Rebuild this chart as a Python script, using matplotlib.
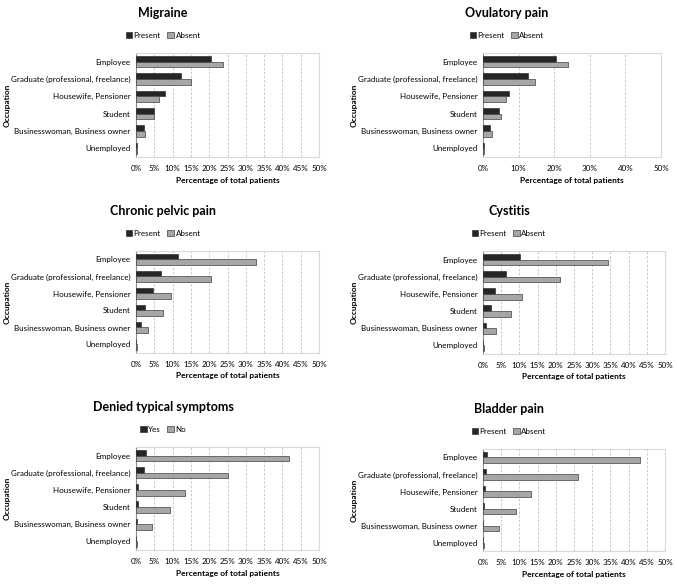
import numpy as np
import matplotlib
matplotlib.use("Agg")
import matplotlib.pyplot as plt
from matplotlib.ticker import MultipleLocator, FuncFormatter

plt.rcParams["font.family"] = ["Lato", "DejaVu Sans"]

occupations = [
    "Employee",
    "Graduate (professional, freelance)",
    "Housewife, Pensioner",
    "Student",
    "Businesswoman, Business owner",
    "Unemployed",
]

migraine_present = [20.5, 12.2, 7.8, 4.9, 2.2, 0.2]
migraine_absent = [23.9, 15.0, 6.2, 4.9, 2.4, 0.2]

ovulatory_present = [20.6, 12.6, 7.4, 4.6, 2.1, 0.2]
ovulatory_absent = [23.8, 14.6, 6.6, 5.0, 2.4, 0.2]

pelvic_present = [11.6, 6.7, 4.6, 2.5, 1.4, 0.1]
pelvic_absent = [32.7, 20.5, 9.5, 7.5, 3.2, 0.2]

cystitis_present = [10.1, 6.2, 3.4, 2.3, 0.9, 0.1]
cystitis_absent = [34.4, 21.1, 10.7, 7.7, 3.6, 0.2]

denied_yes = [2.6, 2.2, 0.6, 0.5, 0.2, 0.0]
denied_no = [41.8, 25.1, 13.5, 9.3, 4.3, 0.3]

bladder_present = [1.2, 0.9, 0.5, 0.3, 0.1, 0.0]
bladder_absent = [43.2, 26.2, 13.3, 9.2, 4.4, 0.2]

DARK = "#262626"
GREY = "#a6a6a6"

fig = plt.figure(figsize=(6.77, 5.85), dpi=100)


def panel(rect, title, first, second, names, step, title_x, ylab_x):
    ax = fig.add_axes(rect)
    y = np.arange(len(occupations))
    h = 0.33
    ax.barh(y - h / 2, first, height=h, color=DARK, edgecolor="#1a1a1a",
            linewidth=0.4, label=names[0], zorder=3)
    ax.barh(y + h / 2, second, height=h, color=GREY, edgecolor="#404040",
            linewidth=0.5, label=names[1], zorder=3)
    ax.set_ylim(len(occupations) - 0.5, -0.5)
    ax.set_yticks(y)
    ax.set_yticklabels(occupations, fontsize=5.8)
    ax.set_xlim(0, 50)
    ax.xaxis.set_major_locator(MultipleLocator(step))
    ax.xaxis.set_major_formatter(FuncFormatter(lambda v, p: "%d%%" % v))
    ax.tick_params(axis="x", labelsize=5.8, length=0, pad=6)
    ax.tick_params(axis="y", length=0, pad=4)
    ax.grid(axis="x", color="#bfbfbf", linestyle=(0, (3, 2)), linewidth=0.6,
            zorder=0)
    for s in ax.spines.values():
        s.set_color("#d9d9d9")
        s.set_linewidth(0.8)
    ax.spines["left"].set_color("#8c8c8c")
    ax.set_xlabel("Percentage of total patients", fontsize=6,
                  fontweight="bold", labelpad=3)

    top = rect[1] + rect[3]
    fig.text(title_x, top + 0.068, title, ha="center", va="center",
             fontsize=9, fontweight="bold")
    ax.legend(loc="center", bbox_to_anchor=(title_x, top + 0.030),
              bbox_transform=fig.transFigure, ncol=2, frameon=False,
              fontsize=5.8, handlelength=0.8, handleheight=0.8,
              handletextpad=0.2, columnspacing=0.8, borderpad=0)
    fig.text(ylab_x, rect[1] + rect[3] / 2, "Occupation", rotation=90,
             ha="center", va="center", fontsize=6, fontweight="bold")
    return ax


panel([0.2009, 0.7316, 0.2703, 0.1778], "Migraine",
      migraine_present, migraine_absent, ["Present", "Absent"], 5,
      0.241, 0.011)
panel([0.7134, 0.7316, 0.2629, 0.1778], "Ovulatory pain",
      ovulatory_present, ovulatory_absent, ["Present", "Absent"], 10,
      0.749, 0.523)
panel([0.2009, 0.3966, 0.2703, 0.1744], "Chronic pelvic pain",
      pelvic_present, pelvic_absent, ["Present", "Absent"], 5,
      0.241, 0.011)
panel([0.7134, 0.3949, 0.2688, 0.1761], "Cystitis",
      cystitis_present, cystitis_absent, ["Present", "Absent"], 5,
      0.752, 0.523)
panel([0.2009, 0.0598, 0.2703, 0.1761], "Denied typical symptoms",
      denied_yes, denied_no, ["Yes", "No"], 5,
      0.241, 0.011)
panel([0.7134, 0.0581, 0.2688, 0.1744], "Bladder pain",
      bladder_present, bladder_absent, ["Present", "Absent"], 5,
      0.752, 0.523)

fig.savefig("out.png", dpi=100)
